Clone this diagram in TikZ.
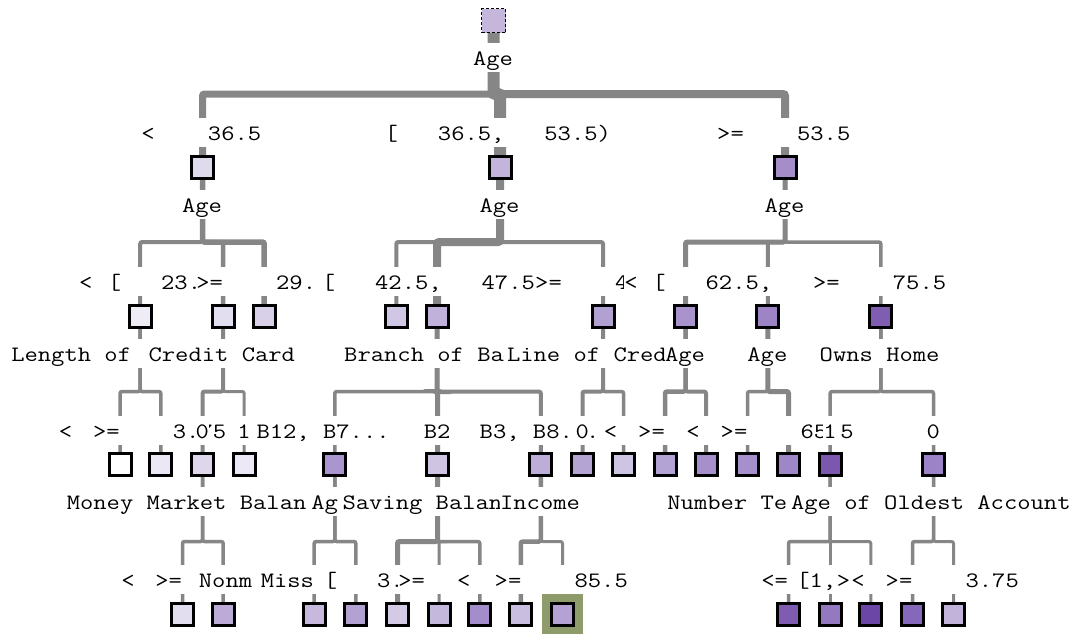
\documentclass[tikz,border=0pt]{standalone}
\usepackage{fontspec}
\usepackage{graphicx}
\pgfdeclarelayer{back}
\pgfdeclarelayer{wires}
\pgfsetlayers{back,wires,main}

\definecolor{wire}{HTML}{868686}
\definecolor{hilite}{HTML}{8E9C6B}
% node fills, level by level
\definecolor{cR}{HTML}{C5B7DC}
\definecolor{cAa}{HTML}{E0DAED}\definecolor{cAb}{HTML}{C2B4DA}\definecolor{cAc}{HTML}{A48DC9}
\definecolor{cBa}{HTML}{EFECF6}\definecolor{cBb}{HTML}{E3DEEF}\definecolor{cBc}{HTML}{D8D0E8}
\definecolor{cBd}{HTML}{D0C7E4}\definecolor{cBe}{HTML}{BFB1D9}\definecolor{cBf}{HTML}{B1A1D2}
\definecolor{cBg}{HTML}{A893CC}\definecolor{cBh}{HTML}{9D84C5}\definecolor{cBi}{HTML}{7F5EB1}
\definecolor{cCa}{HTML}{FFFFFF}\definecolor{cCb}{HTML}{EBE7F4}\definecolor{cCc}{HTML}{DED7EC}
\definecolor{cCd}{HTML}{ECE8F5}\definecolor{cCe}{HTML}{AA96CE}\definecolor{cCf}{HTML}{CFC5E3}
\definecolor{cCg}{HTML}{BDAED9}\definecolor{cCh}{HTML}{B4A4D4}\definecolor{cCi}{HTML}{CEC4E3}
\definecolor{cCj}{HTML}{B3A3D4}\definecolor{cCk}{HTML}{A590CB}\definecolor{cCl}{HTML}{A690CC}
\definecolor{cCm}{HTML}{9E87C7}\definecolor{cCn}{HTML}{7B58AE}\definecolor{cCo}{HTML}{9C82C6}
\definecolor{cDa}{HTML}{E3DEEF}\definecolor{cDb}{HTML}{BAABD7}\definecolor{cDc}{HTML}{C6B9DD}
\definecolor{cDd}{HTML}{B2A1D3}\definecolor{cDe}{HTML}{D3CAE6}\definecolor{cDf}{HTML}{C5B8DD}
\definecolor{cDg}{HTML}{A38DCA}\definecolor{cDh}{HTML}{C9BDE0}\definecolor{cDi}{HTML}{B3A2D3}
\definecolor{cDj}{HTML}{7D5CB1}\definecolor{cDk}{HTML}{9479C0}\definecolor{cDl}{HTML}{6B46A6}
\definecolor{cDm}{HTML}{8568B9}\definecolor{cDn}{HTML}{C2B3DB}

\newcommand{\lblfont}{\fontsize{22}{22}\selectfont\ttfamily}
\newcommand{\stretchtt}[1]{\scalebox{1.175}[1]{#1}}
% text label with an opaque backing, placed by its left edge on the baseline
\newcommand{\putlbl}[4]{\node[lbl] (#1) at (#2,#3) {\stretchtt{#4}};}
% elbow connector: parent stem, bar, child drop
\newcommand{\wirelink}[4]{\draw[wire edge, line width=#1pt] (#2.south) |- (#3.north |- #4) -- (#3.north);}

\tikzset{
  tbox/.style={draw=black, line width=3pt, minimum size=22pt, inner sep=0pt, outer sep=0pt},
  rootbox/.style={draw=black, dash pattern=on 3pt off 2pt, line width=1.6pt, minimum size=24pt, inner sep=0pt, outer sep=0pt},
  lbl/.style={fill=white, inner sep=0pt, outer sep=0pt, text height=22pt, text depth=6.5pt,
              anchor=base west, font=\lblfont},
  wire edge/.style={draw=wire, rounded corners=2pt},
}

\begin{document}
\begin{tikzpicture}[x=1pt, y=-1pt]
\useasboundingbox (0,0) rectangle (1089,633);
\begin{pgfonlayer}{back}
  \fill[white] (0,0) rectangle (1089,633);
\end{pgfonlayer}

% bar heights
\coordinate (bar0) at (0,94);
\coordinate (bar1) at (0,242);
\coordinate (bar2) at (0,391.5);
\coordinate (bar3) at (0,541.5);

% ---- level 0
\node[rootbox, fill=cR] (n0) at (493.5,20.5) {};
% ---- level 1
\node[tbox, fill=cAa] (n1a) at (202.5,167.5) {};
\node[tbox, fill=cAb] (n1b) at (500,167.5) {};
\node[tbox, fill=cAc] (n1c) at (785,167.5) {};
% ---- level 2
\node[tbox, fill=cBa] (n2a) at (140.2,316.5) {};
\node[tbox, fill=cBb] (n2b) at (223.2,316.5) {};
\node[tbox, fill=cBc] (n2c) at (264.2,316.5) {};
\node[tbox, fill=cBd] (n2d) at (396.3,316.5) {};
\node[tbox, fill=cBe] (n2e) at (437.2,316.5) {};
\node[tbox, fill=cBf] (n2f) at (603,316.5) {};
\node[tbox, fill=cBg] (n2g) at (685.5,316.5) {};
\node[tbox, fill=cBh] (n2h) at (767.8,316.5) {};
\node[tbox, fill=cBi] (n2i) at (880.8,316.5) {};
% ---- level 3
\node[tbox, fill=cCa] (n3a) at (120,464.5) {};
\node[tbox, fill=cCb] (n3b) at (160.8,464.5) {};
\node[tbox, fill=cCc] (n3c) at (202.5,464.5) {};
\node[tbox, fill=cCd] (n3d) at (244.2,464.5) {};
\node[tbox, fill=cCe] (n3e) at (334.8,464.5) {};
\node[tbox, fill=cCf] (n3f) at (437.5,464.5) {};
\node[tbox, fill=cCg] (n3g) at (540.8,464.5) {};
\node[tbox, fill=cCh] (n3h) at (582.5,464.5) {};
\node[tbox, fill=cCi] (n3i) at (623.6,464.5) {};
\node[tbox, fill=cCj] (n3j) at (665,464.5) {};
\node[tbox, fill=cCk] (n3k) at (706,464.5) {};
\node[tbox, fill=cCl] (n3l) at (747.5,464.5) {};
\node[tbox, fill=cCm] (n3m) at (788.5,464.5) {};
\node[tbox, fill=cCn] (n3n) at (830.2,464.5) {};
\node[tbox, fill=cCo] (n3o) at (933.5,464.5) {};
% ---- level 4
\node[fill=hilite, minimum size=41pt, inner sep=0pt] (hl) at (562.5,614.5) {};
\node[tbox, fill=cDa] (n4a) at (182.5,614.5) {};
\node[tbox, fill=cDb] (n4b) at (223.2,614.5) {};
\node[tbox, fill=cDc] (n4c) at (314.2,614.5) {};
\node[tbox, fill=cDd] (n4d) at (355.8,614.5) {};
\node[tbox, fill=cDe] (n4e) at (397.5,614.5) {};
\node[tbox, fill=cDf] (n4f) at (439.2,614.5) {};
\node[tbox, fill=cDg] (n4g) at (479.8,614.5) {};
\node[tbox, fill=cDh] (n4h) at (520.8,614.5) {};
\node[tbox, fill=cDi] (n4i) at (562.5,614.5) {};
\node[tbox, fill=cDj] (n4j) at (788.5,614.5) {};
\node[tbox, fill=cDk] (n4k) at (830.2,614.5) {};
\node[tbox, fill=cDl] (n4l) at (870.8,614.5) {};
\node[tbox, fill=cDm] (n4m) at (912.5,614.5) {};
\node[tbox, fill=cDn] (n4n) at (953.5,614.5) {};

% ---- connectors
\begin{pgfonlayer}{wires}
  \wirelink{7}{n0}{n1a}{bar0}
  \wirelink{8}{n0}{n1c}{bar0}
  \wirelink{12}{n0}{n1b}{bar0}

  \wirelink{4}{n1a}{n2a}{bar1}
  \wirelink{4.5}{n1a}{n2b}{bar1}
  \wirelink{5.5}{n1a}{n2c}{bar1}
  \wirelink{4}{n1b}{n2d}{bar1}
  \wirelink{4}{n1b}{n2f}{bar1}
  \wirelink{8}{n1b}{n2e}{bar1}
  \wirelink{5}{n1c}{n2g}{bar1}
  \wirelink{4}{n1c}{n2h}{bar1}
  \wirelink{3.5}{n1c}{n2i}{bar1}

  \wirelink{3.5}{n2a}{n3a}{bar2}
  \wirelink{3.5}{n2a}{n3b}{bar2}
  \wirelink{4}{n2b}{n3c}{bar2}
  \wirelink{3}{n2b}{n3d}{bar2}
  \wirelink{3.5}{n2e}{n3e}{bar2}
  \wirelink{4}{n2e}{n3g}{bar2}
  \wirelink{5}{n2e}{n3f}{bar2}
  \wirelink{4}{n2f}{n3h}{bar2}
  \wirelink{3.5}{n2f}{n3i}{bar2}
  \wirelink{4.5}{n2g}{n3j}{bar2}
  \wirelink{4}{n2g}{n3k}{bar2}
  \wirelink{3.5}{n2h}{n3l}{bar2}
  \wirelink{5}{n2h}{n3m}{bar2}
  \wirelink{3.5}{n2i}{n3n}{bar2}
  \wirelink{3.5}{n2i}{n3o}{bar2}

  \wirelink{3.5}{n3c}{n4a}{bar3}
  \wirelink{3.5}{n3c}{n4b}{bar3}
  \wirelink{3.5}{n3e}{n4c}{bar3}
  \wirelink{3.5}{n3e}{n4d}{bar3}
  \wirelink{3}{n3f}{n4f}{bar3}
  \wirelink{3.5}{n3f}{n4g}{bar3}
  \wirelink{5}{n3f}{n4e}{bar3}
  \wirelink{4.5}{n3g}{n4h}{bar3}
  \wirelink{3}{n3g}{n4i}{bar3}
  \wirelink{3.5}{n3n}{n4j}{bar3}
  \wirelink{3}{n3n}{n4k}{bar3}
  \wirelink{3}{n3n}{n4l}{bar3}
  \wirelink{3.5}{n3o}{n4m}{bar3}
  \wirelink{3}{n3o}{n4n}{bar3}
\end{pgfonlayer}

% ---- split names
\putlbl{s0}{473.1}{65}{Age}
\putlbl{s1a}{182.1}{212}{Age}
\putlbl{s1b}{479.6}{212}{Age}
\putlbl{s1c}{764.6}{212}{Age}

\putlbl{s2a}{11.3}{361}{Length~of~}
\putlbl{s2b}{148.6}{361}{Credit~Card}
\putlbl{s2e}{344.2}{361}{Branch~of~Ba}
\putlbl{s2f}{507.0}{361}{Line~of~Cred}
\putlbl{s2g}{665.1}{361}{Age}
\putlbl{s2h}{747.4}{361}{Age}
\putlbl{s2i}{819.7}{361}{Owns~Home}

\putlbl{s3c}{66.8}{509}{Money~Market~Balan}
\putlbl{s3e}{311.4}{509}{Ag}
\putlbl{s3f}{342.5}{509}{Saving~Balan}
\putlbl{s3g}{500.1}{509}{Income}
\putlbl{s3n}{667.4}{509}{Number~Te}
\putlbl{s3o}{791.0}{509}{Age~of~Oldest~Account}

% ---- branch conditions
\putlbl{e1a}{141.4}{140}{<~~~~36.5}
\putlbl{e1b}{384.7}{140}{[~~~36.5,~~~53.5)}
\putlbl{e1c}{717.2}{140}{>=~~~~53.5}

\putlbl{e2a}{79.1}{289}{<~~~~~~~~}
\putlbl{e2b}{107.9}{289}{[~~~23.~~~~~~~~~~}
\putlbl{e2c}{196.3}{289}{>=~~~~29.~}
\putlbl{e2e}{321.9}{289}{[~~~42.5,~~~47.5~}
\putlbl{e2f}{535.2}{289}{>=~~~~4~~~}
\putlbl{e2g}{624.4}{289}{<~~~~~~~~}
\putlbl{e2h}{652.4}{289}{[~~~62.5,~~~~~~~~}
\putlbl{e2i}{813.0}{289}{>=~~~~75.5}

\putlbl{e3a}{58.9}{438}{<~~~~~~~~}
\putlbl{e3b}{93.0}{438}{>=~~~~3.75}
\putlbl{e3c}{195.7}{438}{0}
\putlbl{e3d}{237.4}{438}{1}
\putlbl{e3e}{256.5}{438}{B12,~B7...}
\putlbl{e3f}{423.9}{438}{B2}
\putlbl{e3g}{479.7}{438}{B3,~B8...}
\putlbl{e3h}{575.7}{438}{0}
\putlbl{e3j}{603.9}{438}{<~~~~~~~~}
\putlbl{e3k}{638.2}{438}{>=~~~~~~~~}
\putlbl{e3l}{686.4}{438}{<~~~~~~~~}
\putlbl{e3m}{720.7}{438}{>=~~~~65.5}
\putlbl{e3n}{823.4}{438}{1}
\putlbl{e3o}{926.7}{438}{0}

\putlbl{e4a}{121.4}{587}{<~~~~~~~~}
\putlbl{e4b}{155.4}{587}{>=~~~~~~~~}
\putlbl{e4c}{198.9}{587}{Nonm~~~~~~~~~~~~~}
\putlbl{e4d}{260.8}{587}{Miss~~~~~~~~~~}
\putlbl{e4f}{323.9}{587}{[~~~3.~~~~~~~~~~~}
\putlbl{e4g}{398.4}{587}{>=~~~~~~~~~~}
\putlbl{e4h}{457.0}{587}{<~~~~~~~~}
\putlbl{e4i}{494.7}{587}{>=~~~~85.5}
\putlbl{e4j}{761.4}{587}{<=~~}
\putlbl{e4k}{796.3}{587}{[1,~~}
\putlbl{e4l}{836.9}{587}{>~~~~}
\putlbl{e4m}{851.4}{587}{<~~~~~~~~}
\putlbl{e4n}{885.7}{587}{>=~~~~3.75}
\end{tikzpicture}
\end{document}
